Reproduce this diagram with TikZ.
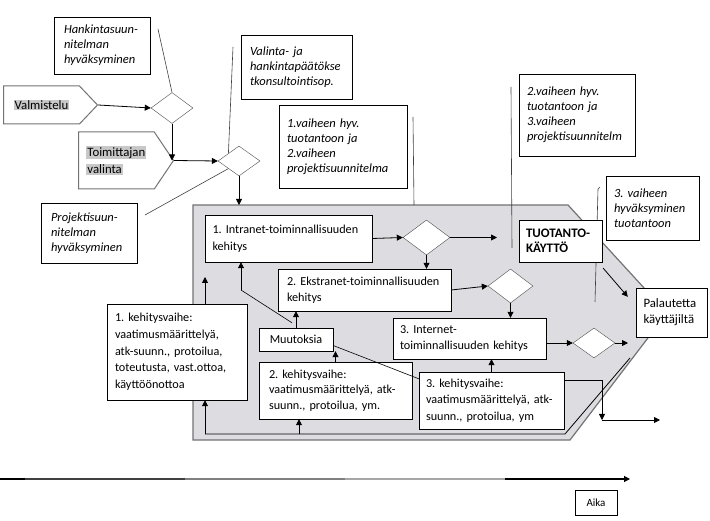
\documentclass[tikz,border=0pt]{standalone}
\usepackage{fontspec}
\setmainfont{Carlito}
\usetikzlibrary{shapes.geometric, shapes.symbols, arrows.meta}
\definecolor{panel}{RGB}{221,221,225}
\definecolor{hilite}{RGB}{200,200,200}
\newcommand{\hilit}[1]{{\setlength{\fboxsep}{1pt}\colorbox{hilite}{#1}}}
\hyphenpenalty=10000
\exhyphenpenalty=10000
\frenchspacing

\begin{document}
\begin{tikzpicture}[x=1pt, y=-1pt,
  box/.style={draw, fill=white, align=left, inner ysep=0pt, font=\fontsize{12.2}{16.5}\selectfont},
  note/.style={box, font=\fontsize{12.5}{15}\selectfont\itshape},
  choice/.style={draw=black!70, fill=white, diamond, inner sep=0pt},
  phase/.style={draw=black!55, line width=1pt, fill=white, signal, signal to=east, align=left, inner sep=0pt, font=\fontsize{12.8}{17.5}\selectfont},
  flow/.style={-{Triangle[length=6pt,width=6pt]}, line width=0.8pt},
  callout/.style={black!75, line width=0.6pt}]
\useasboundingbox (0,0) rectangle (710,521);
% grey development area
\draw[fill=panel, draw=black!55, line width=1.2pt] (193,205) coordinate (gtl) -- (568,205) -- (667,313) -- (570,440) -- (193,440) -- cycle;
% preparation
\node[phase, anchor=west, minimum width=94pt, minimum height=38pt, signal pointer angle=93] (valm) at (3,105) {\hilit{Valmistelu}};
\node[phase, anchor=west, minimum width=95pt, minimum height=57pt, signal pointer angle=112] (toim) at (78,160.5) {\hilit{Toimittajan}\\\hilit{valinta}};
\node[choice, minimum width=42pt, minimum height=31pt] (d1) at (172,108) {};
\node[choice, minimum width=42pt, minimum height=30pt] (d2) at (239,161) {};
\node[note, text width=76pt, inner xsep=10pt, minimum height=57pt] (hank) at (102,45.5) {Hankintasuun-\\nitelman\\hyväksyminen};
\node[note, text width=93pt, inner xsep=9pt, minimum height=64pt] (valin) at (296.5,67) {Valinta- ja\\hankintapäätökse\\tkonsultointisop.};
\node[note, text width=76pt, inner xsep=10pt, minimum height=60pt] (proj) at (89,233) {Projektisuun-\\nitelman\\hyväksyminen};
\node[note, text width=112pt, inner xsep=8pt, minimum height=83pt] (hyv1) at (343,146.5) {1.vaiheen hyv.\\tuotantoon ja\\2.vaiheen\\projektisuunnitelma};
\node[note, text width=100pt, inner xsep=8pt, minimum height=82pt] (hyv2) at (577,115) {2.vaiheen hyv.\\tuotantoon ja\\3.vaiheen\\projektisuunnitelm};
\node[note, text width=77pt, inner xsep=8pt, minimum height=64pt] (hyv3) at (652.5,208) {3. vaiheen\\hyväksyminen\\tuotantoon};
\draw[flow] (valm.east) -- (d1.west);
\draw[flow] (d1.south) -- (d1.south |- toim.east);
\draw[flow] (toim.east) -- (d2.west);
\draw[flow] (d2.south) -- (d2.south |- gtl);
\coordinate (c1) at (158,29);
\coordinate (c2) at (233,47);
\coordinate (c3) at (145,215);
\draw[callout] (c1) -- (d1.north);
\draw[callout] (c2) -- (d2.north west);
\draw[callout] (c3) -- (d2.south west);
\draw[callout] (413,117) coordinate (c4) -- (414,205);
\draw[callout] (511,87) coordinate (c5) -- (512,248);
\draw[callout] (600,187) coordinate (c6) -- (598,189) -- (595,302);
% development phases
\node[box, text width=152pt, inner xsep=7.5pt, minimum height=47pt] (intra) at (288.5,238.5) {1.~Intranet-toiminnallisuuden\\kehitys};
\node[box, text width=155pt, inner xsep=9pt, minimum height=42pt] (ekstra) at (364.5,290) {2.~Ekstranet-toiminnallisuuden\\kehitys};
\node[box, text width=139pt, inner xsep=7pt, minimum height=41pt] (inter) at (469.5,338.5) {3. Internet-\\toiminnallisuuden kehitys};
\node[choice, minimum width=47pt, minimum height=35pt] (dA) at (426.5,237.5) {};
\node[choice, minimum width=45pt, minimum height=34pt] (dB) at (510.5,286) {};
\node[choice, minimum width=42pt, minimum height=30pt] (dC) at (594,343) {};
\node[box, text width=124pt, inner xsep=8pt, minimum height=96pt, font=\fontsize{12.2}{16.7}\selectfont] (kv1) at (177,352) {1. kehitysvaihe:\\vaatimusmäärittelyä,\\atk-suunn., protoilua,\\toteutusta, vast.ottoa,\\käyttöönottoa};
\node[box, align=center, minimum width=74pt, minimum height=23pt, inner sep=0pt] (muutos) at (296,339.5) {Muutoksia};
\node[box, text width=133pt, inner xsep=10pt, minimum height=57pt, font=\fontsize{12.2}{15.5}\selectfont] (kv2) at (335.5,390.5) {2. kehitysvaihe:\\vaatimusmäärittelyä, atk-\\suunn., protoilua, ym.};
\node[box, text width=131pt, inner xsep=7pt, minimum height=57pt, font=\fontsize{12.2}{16.5}\selectfont] (kv3) at (491.5,400.5) {3. kehitysvaihe:\\vaatimusmäärittelyä, atk-\\suunn., protoilua, ym};
\node[box, text width=69pt, inner xsep=7pt, minimum height=42pt, font=\fontsize{13}{15.5}\selectfont\bfseries] (tuot) at (560.5,241) {TUOTANTO-\\KÄYTTÖ};
\node[box, text width=56pt, inner xsep=7.5pt, minimum height=49pt, font=\fontsize{12.8}{16}\selectfont] (pal) at (671.5,312.5) {Palautetta\\käyttäjiltä};
\draw[flow] (intra.east) -- (dA.west);
\draw[flow] (dA.east) -- (497,237.5) coordinate (outA);
\draw[flow] (dA.south) -- (dA.south |- ekstra.north);
\draw[flow] (ekstra.east) -- (dB.west);
\draw[flow] (dB.south) -- (dB.south |- inter.north);
\draw[flow] (dC.west -| inter.east) -- (dC.west);
\draw[flow] (dC.east) -- (628,343) coordinate (outC);
\draw[flow] ([xshift=1pt,yshift=-6pt]tuot.south east) -- ([xshift=-8pt,yshift=-9pt]pal.north west);
\draw[flow] (muutos.north) -- (muutos.north |- ekstra.south);
\draw[flow] (kv2.north) -- (kv2.north |- muutos.south);
\draw[flow] (kv3.north) -- (kv3.north |- inter.south);
\coordinate (bend) at (241,290);
\draw[line width=0.6pt] ([xshift=-4pt,yshift=5pt]muutos.north) -- (bend);
\draw[flow] (bend) -- (bend |- intra.south);
\draw[line width=0.6pt] ([yshift=-6pt]muutos.east) -- ([yshift=-7pt]kv3.north west);
\coordinate (up) at (205,277);
\draw[flow] (up |- kv1.north) -- (up);
% feedback loop
\coordinate (loopL) at (205,434);
\coordinate (loopM) at (299,434);
\draw[line width=0.8pt] (630,358) -- (565,434) -- (loopL);
\draw[flow] (loopL) -- (loopL |- kv1.south);
\draw[flow] (loopM) -- (loopM |- kv2.south);
\coordinate (exit) at (602,420);
\draw[flow] ([yshift=-9pt]kv3.north east) -| (exit);
\draw[flow] (exit) -- (660,420) coordinate (out);
% time axis
\node[box, align=center, minimum width=42pt, minimum height=25pt, inner sep=0pt, font=\fontsize{11}{13}\selectfont] (aika) at (596,502.5) {Aika};
\draw[flow, line width=1.2pt] (0,479) coordinate (t0) -- (630,479) coordinate (t1);
\draw[line width=1.4pt, black!75] (25,479) -- (185,479);
\draw[line width=1.4pt, black!50] (185,479) -- (345,479);
\draw[line width=1.4pt, black!35] (345,479) -- (505,479);
\end{tikzpicture}
\end{document}
